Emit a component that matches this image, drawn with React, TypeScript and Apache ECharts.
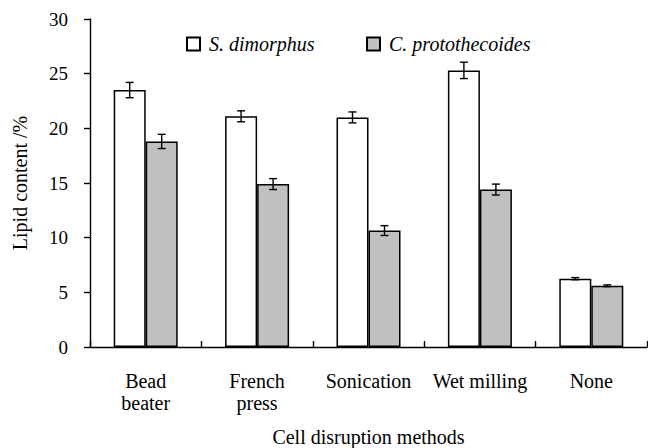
import React, { useEffect, useRef } from "react";
import * as echarts from "echarts";

const categories = ["Bead\nbeater", "French\npress", "Sonication", "Wet milling", "None"];
const sDimorphus = [23.5, 21.1, 21.0, 25.3, 6.25];
const sDimorphusErr = [0.7, 0.5, 0.5, 0.75, 0.1];
const cProto = [18.8, 14.9, 10.65, 14.4, 5.6];
const cProtoErr = [0.65, 0.5, 0.45, 0.5, 0.08];
const yTicks = [0, 5, 10, 15, 20, 25, 30];

const FONT = "Liberation Serif";
const BAR_W = 32;

function errorSeries(values: number[], errs: number[], offset: number) {
  return {
    type: "custom",
    silent: true,
    z: 10,
    data: values.map((v, i) => [i, v, errs[i]]),
    renderItem: (params: any, api: any) => {
      const i = api.value(0);
      const v = api.value(1);
      const e = api.value(2);
      const hi = api.coord([i, v + e]);
      const lo = api.coord([i, v - e]);
      const x = hi[0] + offset;
      const cap = 4;
      const style = { stroke: "#000", lineWidth: 1.4 };
      return {
        type: "group",
        children: [
          { type: "line", shape: { x1: x, y1: hi[1], x2: x, y2: lo[1] }, style },
          { type: "line", shape: { x1: x - cap, y1: hi[1], x2: x + cap, y2: hi[1] }, style },
          { type: "line", shape: { x1: x - cap, y1: lo[1], x2: x + cap, y2: lo[1] }, style },
        ],
      };
    },
  };
}

export default function App() {
  const ref = useRef<HTMLDivElement>(null);
  useEffect(() => {
    if (!ref.current) return;
    const chart = echarts.init(ref.current, null, { renderer: "svg" });
    const legendText = { fontFamily: FONT, fontStyle: "italic", fontSize: 20, color: "#000", padding: [0, 0, 0, 4] };
    chart.setOption({
      animation: false,
      backgroundColor: "#fff",
      textStyle: { fontFamily: FONT },
      grid: { left: 90, right: 1, top: 19, bottom: 101, containLabel: false, outerBoundsMode: "none" },
      legend: [
        {
          data: ["S. dimorphus"],
          left: 181,
          top: 29,
          icon: "rect",
          itemWidth: 13,
          itemHeight: 13,
          textStyle: legendText,
        },
        {
          data: ["C. protothecoides"],
          left: 361,
          top: 29,
          icon: "rect",
          itemWidth: 13,
          itemHeight: 13,
          textStyle: legendText,
        },
      ],
      xAxis: {
        type: "category",
        data: categories,
        name: "Cell disruption methods",
        nameLocation: "middle",
        nameGap: 80,
        nameTextStyle: { fontFamily: FONT, fontSize: 20, color: "#000" },
        axisLine: { lineStyle: { color: "#000", width: 1.4 } },
        axisTick: { show: true, inside: true, length: 6, alignWithLabel: false, lineStyle: { color: "#000", width: 1.4 } },
        axisLabel: { fontFamily: FONT, fontSize: 20, color: "#000", margin: 23, lineHeight: 22, interval: 0 },
      },
      yAxis: {
        type: "value",
        min: 0,
        max: 30,
        interval: 5,
        name: "Lipid content /%",
        nameLocation: "middle",
        nameGap: 60,
        nameTextStyle: { fontFamily: FONT, fontSize: 20, color: "#000" },
        axisLine: { show: true, lineStyle: { color: "#000", width: 1.4 } },
        axisTick: { show: true, inside: false, length: 6, lineStyle: { color: "#000", width: 1.4 } },
        axisLabel: {
          fontFamily: FONT,
          fontSize: 19,
          color: "#000",
          margin: 22,
          formatter: (v: number) => (yTicks.includes(v) ? String(v) : ""),
        },
        splitLine: { show: false },
      },
      series: [
        {
          name: "S. dimorphus",
          type: "bar",
          data: sDimorphus,
          barWidth: BAR_W,
          barGap: "0%",
          itemStyle: { color: "#fff", borderColor: "#000", borderWidth: 1.5 },
        },
        {
          name: "C. protothecoides",
          type: "bar",
          data: cProto,
          barWidth: BAR_W,
          barGap: "0%",
          itemStyle: { color: "#c0c0c0", borderColor: "#000", borderWidth: 1.5 },
        },
        errorSeries(sDimorphus, sDimorphusErr, -BAR_W / 2),
        errorSeries(cProto, cProtoErr, BAR_W / 2),
      ],
    });
    return () => chart.dispose();
  }, []);
  return <div ref={ref} style={{ width: 648, height: 448, position: "absolute", left: 0, top: 0 }} />;
}
